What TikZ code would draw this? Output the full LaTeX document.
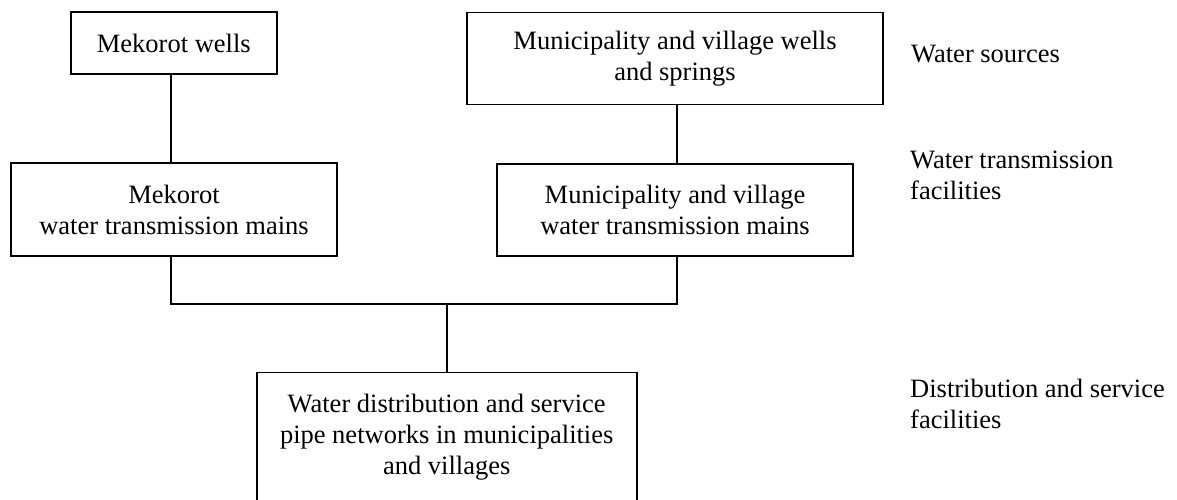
\documentclass[tikz,border=0pt]{standalone}
\usepackage{fontspec}
\setmainfont{Liberation Serif}
\begin{document}
\begin{tikzpicture}[x=1pt,y=-1pt,
  box/.style={draw, line width=1.7pt, rectangle, align=center, inner sep=0pt,
    font=\fontsize{26.5}{31}\selectfont},
  lab/.style={anchor=base west, align=left, inner sep=0pt,
    font=\fontsize{26.5}{31}\selectfont},
  wire/.style={line width=1.7pt}]
\useasboundingbox (0,0) rectangle (1177,500);
\clip (0,0) rectangle (1177,500);
\node[box, minimum width=206pt, minimum height=62pt] (A) at (173.8,43.2) {Mekorot wells};
\node[box, minimum width=416.6pt, minimum height=92pt] (B) at (675,58.6) {Municipality and village wells\\and springs};
\node[box, minimum width=326pt, minimum height=93pt] (C) at (174,209.5) {Mekorot\\water transmission mains};
\node[box, minimum width=356pt, minimum height=92pt] (D) at (675,210) {Municipality and village\\water transmission mains};
\node[box, minimum width=380pt, minimum height=130pt] (E) at (446.7,437.5) {Water distribution and service\\pipe networks in municipalities\\and villages};
\node[lab] (L1) at (911,63) {Water sources};
\node[lab] (L2) at (910,199) {Water transmission\\facilities};
\node[lab] (L3) at (910,428) {Distribution and service\\facilities};
\coordinate (busL) at (171,304);
\coordinate (busR) at (677,304);
\draw[wire] (A.south -| busL) -- (C.north -| busL);
\draw[wire] (B.south -| busR) -- (D.north -| busR);
\draw[wire] (C.south -| busL) -- (busL) -- (busR) -- (D.south -| busR);
\draw[wire] (E.north) -- (E.north |- busL);
\end{tikzpicture}
\end{document}
